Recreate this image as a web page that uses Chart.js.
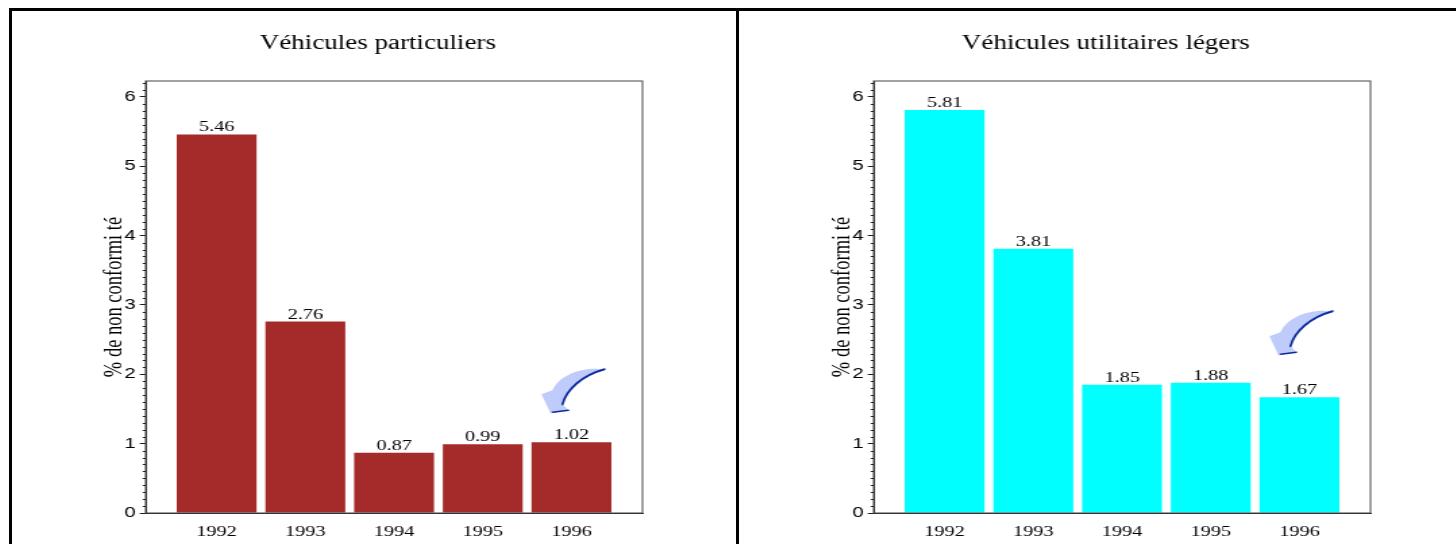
<!DOCTYPE html>
<html lang="fr">
<head>
<meta charset="utf-8">
<title>Taux de non conformité</title>
<script src="https://cdn.jsdelivr.net/npm/chart.js@4.4.1/dist/chart.umd.min.js"></script>
<style>
  html, body { margin: 0; padding: 0; background: #fff; }
  body { width: 1456px; height: 544px; position: relative; overflow: hidden; }
  /* charts are drawn narrow then widened, like the original export */
  .panel { position: absolute; top: 11px; width: 542px; height: 533px; transform: scaleX(1.35); transform-origin: 0 0; }
  .rule { position: absolute; background: #000; z-index: 2; }
</style>
</head>
<body>
<div class="rule" style="left:9px;top:8px;width:1447px;height:3px"></div>
<div class="rule" style="left:9px;top:8px;width:3px;height:536px"></div>
<div class="rule" style="left:736px;top:8px;width:3px;height:536px"></div>
<div class="panel" style="left:12px"><canvas id="vp"></canvas></div>
<div class="panel" style="left:740px"><canvas id="vul"></canvas></div>

<script>
const years = ['1992', '1993', '1994', '1995', '1996'];
const particuliers = [5.46, 2.76, 0.87, 0.99, 1.02];
const utilitaires = [5.81, 3.81, 1.85, 1.88, 1.67];
const yMax = 6.23;

const STRETCH = 1.35;
const SERIF = '"Liberation Serif", "Times New Roman", serif';
const SANS = '"Liberation Sans", Arial, sans-serif';

Chart.defaults.color = '#000';

// panel heading, centred on the whole canvas rather than the plot
const panelTitle = {
  id: 'panelTitle',
  afterDraw(chart, args, opts) {
    const ctx = chart.ctx;
    ctx.save();
    ctx.font = '20px ' + SERIF;
    ctx.fillStyle = '#000';
    ctx.textAlign = 'center';
    ctx.textBaseline = 'middle';
    ctx.fillText(opts.text, chart.width / 2, 33);
    ctx.restore();
  }
};

// thin box round the plot area
const frame = {
  id: 'frame',
  afterDraw(chart) {
    const { ctx, chartArea: a } = chart;
    ctx.save();
    ctx.strokeStyle = '#444';
    ctx.lineWidth = 1;
    ctx.strokeRect(a.left, a.top, a.right - a.left, a.bottom - a.top);
    ctx.restore();
  }
};

// short ticks every 0.1 on the value axis
const minorTicks = {
  id: 'minorTicks',
  afterDraw(chart) {
    const y = chart.scales.y;
    const ctx = chart.ctx;
    ctx.save();
    ctx.strokeStyle = '#222';
    ctx.lineWidth = 1;
    ctx.beginPath();
    for (let i = 1; i / 10 <= y.max + 1e-9; i++) {
      if (i % 10 === 0) continue;
      const py = Math.round(y.getPixelForValue(i / 10)) + 0.5;
      ctx.moveTo(y.right - 2.2, py);
      ctx.lineTo(y.right, py);
    }
    ctx.stroke();
    ctx.restore();
  }
};

// value printed above each bar
const valueLabels = {
  id: 'valueLabels',
  afterDatasetsDraw(chart) {
    const ctx = chart.ctx;
    const meta = chart.getDatasetMeta(0);
    const pts = chart.data.datasets[0].data;
    ctx.save();
    ctx.font = '15px ' + SERIF;
    ctx.fillStyle = '#000';
    ctx.textAlign = 'center';
    ctx.textBaseline = 'alphabetic';
    meta.data.forEach((bar, i) => ctx.fillText(pts[i].y.toFixed(2), bar.x, bar.y - 3));
    ctx.restore();
  }
};

// curved arrow pointing at the last bar
const arrow = {
  id: 'arrow',
  afterDatasetsDraw(chart, args, opts) {
    const meta = chart.getDatasetMeta(0);
    const bar = meta.data[meta.data.length - 1];
    const ctx = chart.ctx;
    ctx.save();
    ctx.translate(bar.x - 21 / STRETCH, bar.y + opts.dy);
    ctx.scale(1 / STRETCH, 1);
    ctx.beginPath();
    ctx.moveTo(53, -44);
    ctx.bezierCurveTo(30, -47, 8, -37, 2, -23);
    ctx.lineTo(-9, -19);
    ctx.lineTo(0, 0);
    ctx.lineTo(18, -3);
    ctx.lineTo(12, -9);
    ctx.bezierCurveTo(16, -24, 32, -38, 53, -44);
    ctx.closePath();
    ctx.fillStyle = '#bfcbfb';
    ctx.fill();
    ctx.strokeStyle = '#0b2a9c';
    ctx.lineWidth = 2.2;
    ctx.lineCap = 'round';
    ctx.beginPath();
    ctx.moveTo(12, -9);
    ctx.bezierCurveTo(16, -24, 32, -38, 54, -44);
    ctx.stroke();
    ctx.lineWidth = 1.6;
    ctx.beginPath();
    ctx.moveTo(2, -1);
    ctx.lineTo(18, -3);
    ctx.stroke();
    ctx.restore();
  }
};

function makePanel(id, title, values, color, arrowDy) {
  new Chart(document.getElementById(id), {
    type: 'bar',
    data: {
      datasets: [{
        data: values.map((v, i) => ({ x: i + 1, y: v })),
        backgroundColor: color,
        borderWidth: 0,
        categoryPercentage: 1,
        barPercentage: 0.9
      }]
    },
    options: {
      responsive: true,
      maintainAspectRatio: false,
      animation: false,
      events: [],
      layout: { padding: { left: 0, right: 75, top: 70, bottom: 0 } },
      plugins: {
        legend: { display: false },
        tooltip: { enabled: false },
        title: { display: false },
        panelTitle: { text: title },
        arrow: { dy: arrowDy }
      },
      scales: {
        x: {
          type: 'linear',
          offset: false,
          min: 0.2,
          max: 5.8,
          afterBuildTicks: s => { s.ticks = years.map((_, i) => ({ value: i + 1 })); },
          afterFit: s => { s.height = 31; },
          grid: { display: false },
          border: { display: true, color: '#222' },
          ticks: {
            autoSkip: false,
            maxRotation: 0,
            padding: 2,
            color: '#000',
            font: { family: SERIF, size: 15 },
            callback: v => years[v - 1]
          }
        },
        y: {
          min: 0,
          max: yMax,
          afterFit: s => { s.width = 99; },
          grid: { drawOnChartArea: false, drawTicks: true, tickLength: 4.4, color: '#222' },
          border: { display: true, color: '#222' },
          ticks: {
            stepSize: 1,
            includeBounds: false,
            padding: 3,
            color: '#000',
            font: { family: SANS, size: 15 }
          },
          title: {
            display: true,
            text: '% de non conformi té',
            color: '#000',
            font: { family: SERIF, size: 18.5 },
            padding: { top: 65, bottom: 0 }
          }
        }
      }
    },
    plugins: [panelTitle, frame, minorTicks, valueLabels, arrow]
  });
}

makePanel('vp', 'Véhicules particuliers', particuliers, '#a52a2a', -29);
makePanel('vul', 'Véhicules utilitaires légers', utilitaires, '#00ffff', -42);
</script>
</body>
</html>
